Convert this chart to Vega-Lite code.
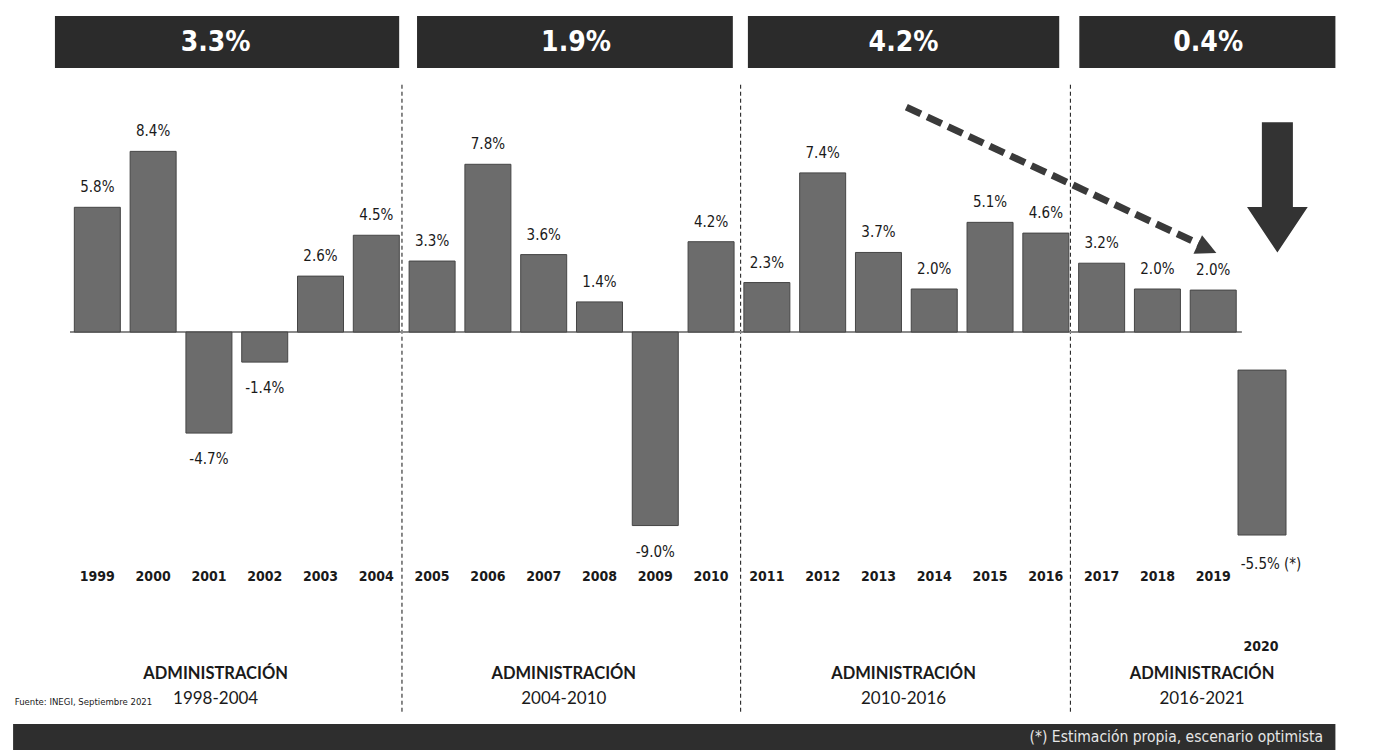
{
  "$schema": "https://vega.github.io/schema/vega-lite/v6.json",
  "width": 1375,
  "height": 755,
  "padding": 0,
  "autosize": "none",
  "background": "white",
  "config": {"view": {"stroke": null}, "text": {"font": "DejaVu Sans Condensed, Liberation Sans, sans-serif"}},
  "datasets": {
    "pib": [
      {"anio": 1999, "valor": 5.8, "etiqueta": "5.8%"},
      {"anio": 2000, "valor": 8.4, "etiqueta": "8.4%"},
      {"anio": 2001, "valor": -4.7, "etiqueta": "-4.7%"},
      {"anio": 2002, "valor": -1.4, "etiqueta": "-1.4%"},
      {"anio": 2003, "valor": 2.6, "etiqueta": "2.6%"},
      {"anio": 2004, "valor": 4.5, "etiqueta": "4.5%"},
      {"anio": 2005, "valor": 3.3, "etiqueta": "3.3%"},
      {"anio": 2006, "valor": 7.8, "etiqueta": "7.8%"},
      {"anio": 2007, "valor": 3.6, "etiqueta": "3.6%"},
      {"anio": 2008, "valor": 1.4, "etiqueta": "1.4%"},
      {"anio": 2009, "valor": -9.0, "etiqueta": "-9.0%"},
      {"anio": 2010, "valor": 4.2, "etiqueta": "4.2%"},
      {"anio": 2011, "valor": 2.3, "etiqueta": "2.3%"},
      {"anio": 2012, "valor": 7.4, "etiqueta": "7.4%"},
      {"anio": 2013, "valor": 3.7, "etiqueta": "3.7%"},
      {"anio": 2014, "valor": 2.0, "etiqueta": "2.0%"},
      {"anio": 2015, "valor": 5.1, "etiqueta": "5.1%"},
      {"anio": 2016, "valor": 4.6, "etiqueta": "4.6%"},
      {"anio": 2017, "valor": 3.2, "etiqueta": "3.2%"},
      {"anio": 2018, "valor": 2.0, "etiqueta": "2.0%"},
      {"anio": 2019, "valor": 1.95, "etiqueta": "2.0%"}
    ],
    "pib2020": [
      {"anio": 2020, "valor": -5.5, "etiqueta": "-5.5% (*)"}
    ],
    "admin": [
      {"periodo": "1998-2004", "promedio": "3.3%", "desde": 1998.24, "hasta": 2004.41, "x_promedio": 2001.12, "x_etiqueta": 2001.12},
      {"periodo": "2004-2010", "promedio": "1.9%", "desde": 2004.73, "hasta": 2010.39, "x_promedio": 2007.58, "x_etiqueta": 2007.36},
      {"periodo": "2010-2016", "promedio": "4.2%", "desde": 2010.66, "hasta": 2016.24, "x_promedio": 2013.45, "x_etiqueta": 2013.45},
      {"periodo": "2016-2021", "promedio": "0.4%", "desde": 2016.6, "hasta": 2021.19, "x_promedio": 2018.91, "x_etiqueta": 2018.8}
    ],
    "separadores": [
      {"x": 2004.46},
      {"x": 2010.53},
      {"x": 2016.44}
    ],
    "tendencia": [
      {"x": 2013.5, "y": 10.46},
      {"x": 2018.75, "y": 4.09}
    ]
  },
  "resolve": {"scale": {"x": "shared", "y": "shared"}},
  "layer": [
    {
      "data": {"name": "separadores"},
      "mark": {"type": "rule", "color": "#111", "strokeWidth": 1, "strokeDash": [4, 3]},
      "encoding": {
        "x": {"field": "x", "type": "quantitative", "scale": {"domain": [1997.345, 2021.81], "nice": false, "zero": false}, "axis": null},
        "y": {"datum": 11.5, "type": "quantitative", "scale": {"domain": [-19.67, 15.44], "nice": false, "zero": false}, "axis": null},
        "y2": {"datum": -17.7}
      }
    },
    {
      "data": {"name": "pib"},
      "mark": {"type": "rule", "color": "#8a8a8a", "strokeWidth": 1.5},
      "encoding": {
        "x": {"datum": 1998.52, "type": "quantitative"},
        "x2": {"datum": 2019.5},
        "y": {"datum": 0, "type": "quantitative"}
      }
    },
    {
      "data": {"name": "pib"},
      "mark": {"type": "bar", "width": 46, "color": "#6c6c6c", "stroke": "#454545", "strokeWidth": 1},
      "encoding": {
        "x": {"field": "anio", "type": "quantitative"},
        "y": {"field": "valor", "type": "quantitative"},
        "y2": {"datum": 0}
      }
    },
    {
      "data": {"name": "pib"},
      "transform": [{"filter": "datum.valor >= 0"}],
      "mark": {"type": "text", "fontSize": 15, "color": "#1a1a1a", "baseline": "middle", "dy": -20},
      "encoding": {
        "x": {"field": "anio", "type": "quantitative"},
        "y": {"field": "valor", "type": "quantitative"},
        "text": {"field": "etiqueta"}
      }
    },
    {
      "data": {"name": "pib"},
      "transform": [{"filter": "datum.valor < 0"}],
      "mark": {"type": "text", "fontSize": 15, "color": "#1a1a1a", "baseline": "middle", "dy": 26},
      "encoding": {
        "x": {"field": "anio", "type": "quantitative"},
        "y": {"field": "valor", "type": "quantitative"},
        "text": {"field": "etiqueta"}
      }
    },
    {
      "data": {"name": "pib"},
      "mark": {"type": "text", "fontSize": 14, "fontWeight": "bold", "color": "#1a1a1a", "baseline": "middle"},
      "encoding": {
        "x": {"field": "anio", "type": "quantitative"},
        "y": {"datum": -11.4, "type": "quantitative"},
        "text": {"field": "anio", "type": "nominal"}
      }
    },
    {
      "data": {"name": "pib2020"},
      "mark": {"type": "bar", "width": 48, "xOffset": -7, "color": "#6c6c6c", "stroke": "#454545", "strokeWidth": 1},
      "encoding": {
        "x": {"field": "anio", "type": "quantitative"},
        "y": {"datum": -1.77, "type": "quantitative"},
        "y2": {"datum": -9.44}
      }
    },
    {
      "data": {"name": "pib2020"},
      "mark": {"type": "text", "fontSize": 15, "color": "#1a1a1a", "baseline": "middle", "dx": 2},
      "encoding": {
        "x": {"field": "anio", "type": "quantitative"},
        "y": {"datum": -10.8, "type": "quantitative"},
        "text": {"field": "etiqueta"}
      }
    },
    {
      "data": {"name": "pib2020"},
      "mark": {"type": "text", "fontSize": 14, "fontWeight": "bold", "color": "#1a1a1a", "baseline": "middle", "dx": -8},
      "encoding": {
        "x": {"field": "anio", "type": "quantitative"},
        "y": {"datum": -14.65, "type": "quantitative"},
        "text": {"field": "anio", "type": "nominal"}
      }
    },
    {
      "data": {"name": "admin"},
      "mark": {"type": "rect", "color": "#2b2b2b"},
      "encoding": {
        "x": {"field": "desde", "type": "quantitative"},
        "x2": {"field": "hasta"},
        "y": {"datum": 14.7, "type": "quantitative"},
        "y2": {"datum": 12.28}
      }
    },
    {
      "data": {"name": "admin"},
      "mark": {"type": "text", "fontSize": 28, "fontWeight": "bold", "color": "white", "baseline": "middle"},
      "encoding": {
        "x": {"field": "x_promedio", "type": "quantitative"},
        "y": {"datum": 13.45, "type": "quantitative"},
        "text": {"field": "promedio"}
      }
    },
    {
      "data": {"name": "admin"},
      "mark": {"type": "text", "font": "Lato", "fontSize": 16.5, "fontWeight": "bold", "color": "#1a1a1a", "baseline": "middle", "text": "ADMINISTRACIÓN"},
      "encoding": {
        "x": {"field": "x_etiqueta", "type": "quantitative"},
        "y": {"datum": -15.9, "type": "quantitative"}
      }
    },
    {
      "data": {"name": "admin"},
      "mark": {"type": "text", "font": "Lato", "fontSize": 17, "color": "#1a1a1a", "baseline": "middle"},
      "encoding": {
        "x": {"field": "x_etiqueta", "type": "quantitative"},
        "y": {"datum": -17.05, "type": "quantitative"},
        "text": {"field": "periodo"}
      }
    },
    {
      "data": {"name": "tendencia"},
      "mark": {"type": "line", "color": "#3a3a3a", "strokeWidth": 7, "strokeDash": [16, 7], "strokeCap": "butt"},
      "encoding": {
        "x": {"field": "x", "type": "quantitative"},
        "y": {"field": "y", "type": "quantitative"}
      }
    },
    {
      "data": {"values": [{"x": 2018.89, "y": 3.87}]},
      "mark": {"type": "point", "shape": "M-1,-1L1,0L-1,1Z", "size": 420, "angle": 24.6, "filled": true, "opacity": 1, "color": "#3a3a3a"},
      "encoding": {
        "x": {"field": "x", "type": "quantitative"},
        "y": {"field": "y", "type": "quantitative"}
      }
    },
    {
      "data": {"values": [{"x": 2020.15, "y": 6.72}]},
      "mark": {"type": "point", "shape": "M-0.235,-0.99L0.235,-0.99L0.235,0.295L0.46,0.295L0,0.985L-0.46,0.295L-0.235,0.295Z", "size": 17424, "filled": true, "opacity": 1, "color": "#333333"},
      "encoding": {
        "x": {"field": "x", "type": "quantitative"},
        "y": {"field": "y", "type": "quantitative"}
      }
    },
    {
      "data": {"values": [{"texto": "Fuente: INEGI, Septiembre 2021"}]},
      "mark": {"type": "text", "fontSize": 9.5, "color": "#1a1a1a", "align": "left", "baseline": "middle"},
      "encoding": {
        "x": {"datum": 1997.52, "type": "quantitative"},
        "y": {"datum": -17.21, "type": "quantitative"},
        "text": {"field": "texto"}
      }
    },
    {
      "data": {"values": [{"texto": "(*) Estimación propia, escenario optimista"}]},
      "mark": {"type": "rect", "color": "#2e2e2e"},
      "encoding": {
        "x": {"datum": 1997.49, "type": "quantitative"},
        "x2": {"datum": 2021.19},
        "y": {"datum": -18.23, "type": "quantitative"},
        "y2": {"datum": -19.44}
      }
    },
    {
      "data": {"values": [{"texto": "(*) Estimación propia, escenario optimista"}]},
      "mark": {"type": "text", "fontSize": 15.5, "color": "#e6e6e6", "align": "right", "baseline": "middle"},
      "encoding": {
        "x": {"datum": 2020.97, "type": "quantitative"},
        "y": {"datum": -18.85, "type": "quantitative"},
        "text": {"field": "texto"}
      }
    }
  ]
}
